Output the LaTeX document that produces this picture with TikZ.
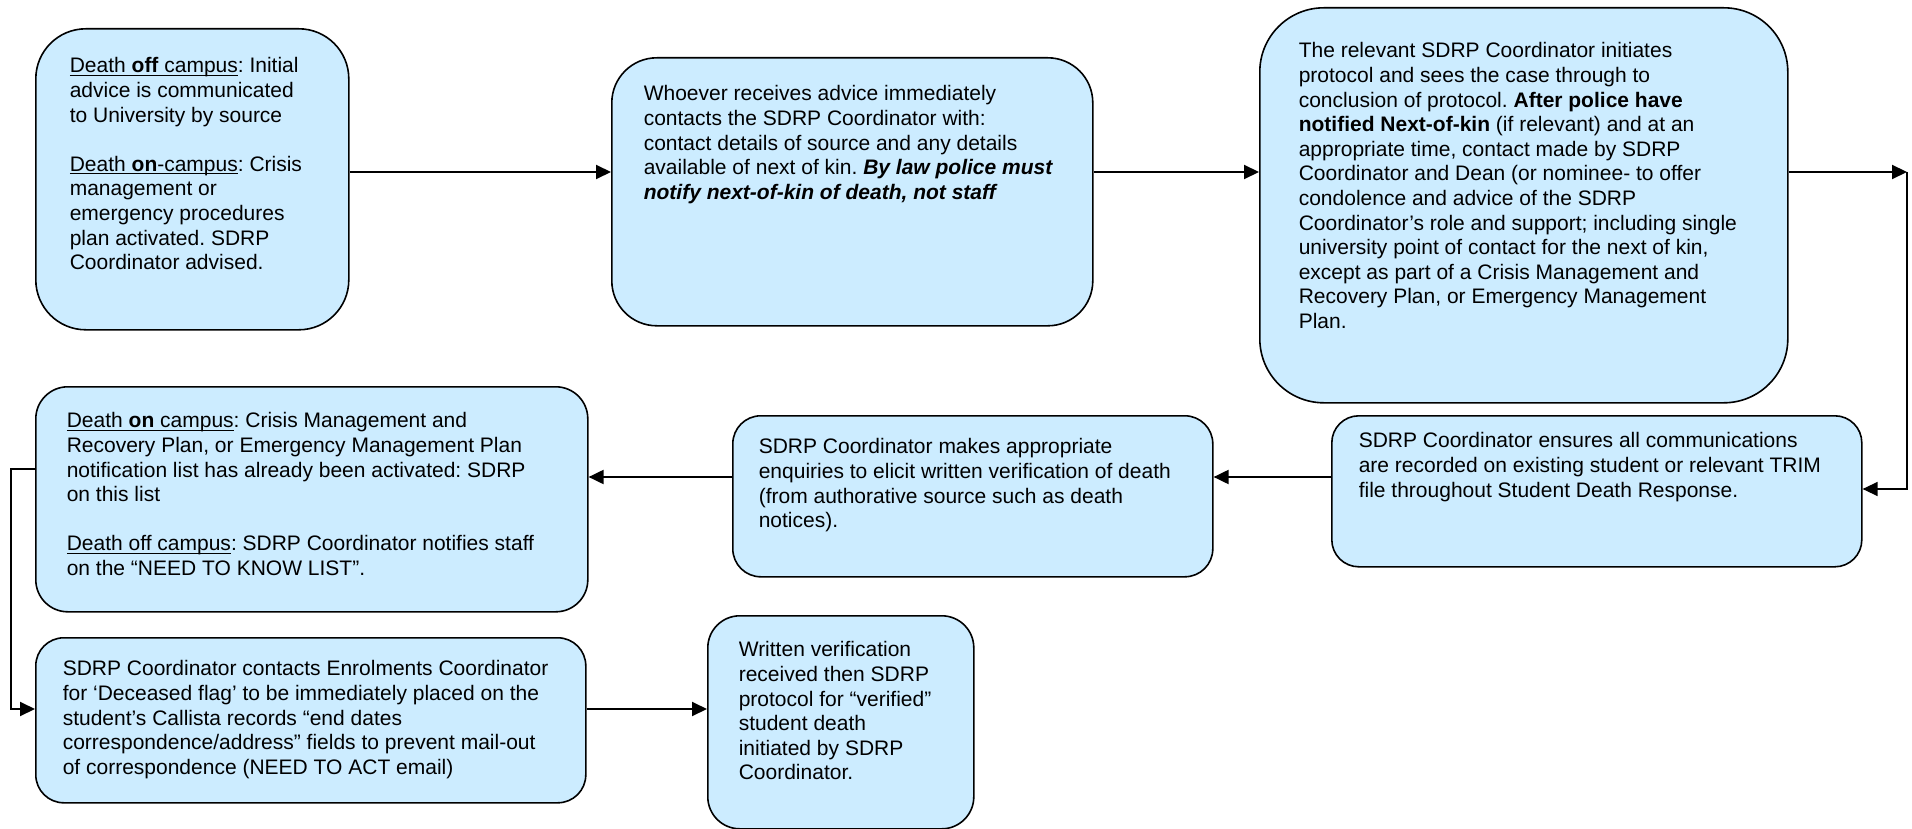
\documentclass[tikz,border=0pt]{standalone}
\usepackage{fontspec}
\setmainfont{Liberation Sans}
\usepackage{xcolor}
\usepackage{tikz}
\usetikzlibrary{arrows.meta,calc,positioning}

\definecolor{stageblue}{RGB}{204,236,255}
\frenchspacing
% 下划线
\newsavebox{\ulbox}
\newcommand{\undertext}[1]{\leavevmode\sbox{\ulbox}{#1}\rlap{\rule[-1.4pt]{\wd\ulbox}{0.5pt}}\usebox{\ulbox}}
% 框内文字：宽，高，左边距，上边距，内容
\newcommand{\stagetext}[5]{\parbox[c][#2][t]{#1}{\vspace*{#4}\raggedright\leftskip=#3\relax #5}}

\begin{document}
\begin{tikzpicture}[x=0.5pt,y=-0.5pt,
  stage/.style={draw=black,line width=0.8pt,fill=stageblue,rounded corners=#1,
    anchor=north west,inner sep=0pt,font=\fontsize{10.5}{12.3}\selectfont},
  stage/.default=15pt,
  flow/.style={line width=1pt,-{Triangle[length=7.5pt,width=7pt]}}]
  \useasboundingbox (0,0) rectangle (1912,829);
  % 第一行
  \node[stage=25pt] (advice) at (35,28) {\stagetext{156.5pt}{150.5pt}{17pt}{14.4pt}{%
    \undertext{Death \textbf{off} campus}: Initial\\
    advice is communicated\\
    to University by source\\[12.3pt]
    \undertext{Death \textbf{on}-campus}: Crisis\\
    management or\\
    emergency procedures\\
    plan activated. SDRP\\
    Coordinator advised.}};
  \node[stage=22.5pt] (contact) at (611,57) {\stagetext{240.5pt}{134pt}{16pt}{13.9pt}{%
    Whoever receives advice immediately\\
    contacts the SDRP Coordinator with:\\
    contact details of source and any details\\
    available of next of kin. \textbf{\textit{By law police must}}\\
    \textbf{\textit{notify next-of-kin of death, not staff}}}};
  \node[stage=32pt] (protocol) at (1259,7) {\stagetext{264pt}{197.5pt}{19.5pt}{17.4pt}{%
    The relevant SDRP Coordinator initiates\\
    protocol and sees the case through to\\
    conclusion of protocol. \textbf{After police have}\\
    \textbf{notified Next-of-kin} (if relevant) and at an\\
    appropriate time, contact made by SDRP\\
    Coordinator and Dean (or nominee- to offer\\
    condolence and advice of the SDRP\\
    Coordinator’s role and support; including single\\
    university point of contact for the next of kin,\\
    except as part of a Crisis Management and\\
    Recovery Plan, or Emergency Management\\
    Plan.}};
  % 第二行
  \node[stage=13.5pt] (records) at (1331,415) {\stagetext{265pt}{75.5pt}{13.5pt}{8.4pt}{%
    SDRP Coordinator ensures all communications\\
    are recorded on existing student or relevant TRIM\\
    file throughout Student Death Response.}};
  \node[stage=14pt] (enquiry) at (732,415) {\stagetext{240pt}{80.5pt}{13pt}{11.4pt}{%
    SDRP Coordinator makes appropriate\\
    enquiries to elicit written verification of death\\
    (from authorative source such as death\\
    notices).}};
  \node[stage=16pt] (notify) at (35,386) {\stagetext{276pt}{112.5pt}{15.5pt}{12.9pt}{%
    \undertext{Death \textbf{on} campus}: Crisis Management and\\
    Recovery Plan, or Emergency Management Plan\\
    notification list has already been activated: SDRP\\
    on this list\\[12.3pt]
    \undertext{Death off campus}: SDRP Coordinator notifies staff\\
    on the “NEED TO KNOW LIST”.}};
  % 第三行
  \node[stage=14pt] (flag) at (35,637) {\stagetext{275pt}{82.5pt}{13.5pt}{11.4pt}{%
    SDRP Coordinator contacts Enrolments Coordinator\\
    for ‘Deceased flag’ to be immediately placed on the\\
    student’s Callista records “end dates\\
    correspondence/address” fields to prevent mail-out\\
    of correspondence (NEED TO ACT email)}};
  \node[stage=16pt] (verified) at (707,615) {\stagetext{133pt}{106.5pt}{15.5pt}{12.9pt}{%
    Written verification\\
    received then SDRP\\
    protocol for “verified”\\
    student death\\
    initiated by SDRP\\
    Coordinator.}};
  % 连线用到的拐点
  \coordinate (rowone) at (0,172);
  \coordinate (railtop) at (1907,172);
  \coordinate (raillow) at (1907,489);
  \coordinate (rowtwo) at (0,477);
  \coordinate (railleft) at (11,709);
  \draw[flow] (advice.east |- rowone) -- (contact.west |- rowone);
  \draw[flow] (contact.east |- rowone) -- (protocol.west |- rowone);
  \draw[flow] (protocol.east |- rowone) -- (railtop);
  \draw[flow,line width=0.7pt] (railtop) -- (raillow) -- (records.east |- raillow);
  \draw[flow] (records.west |- rowtwo) -- (enquiry.east |- rowtwo);
  \draw[flow] (enquiry.west |- rowtwo) -- (notify.east |- rowtwo);
  \draw[flow] (notify.west |- 0,469) -| (railleft) -- (flag.west |- railleft);
  \draw[flow] (flag.east |- railleft) -- (verified.west |- railleft);
\end{tikzpicture}
\end{document}
